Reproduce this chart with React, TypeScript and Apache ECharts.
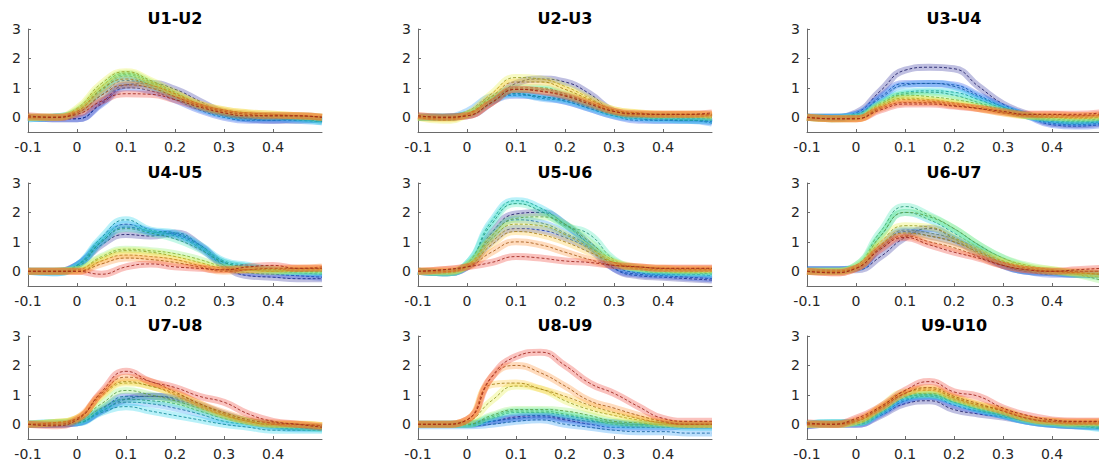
import React, { useEffect, useRef } from "react";
import * as echarts from "echarts";

// Sample times (s) shared by every trace
const TIME = [-0.1, -0.05, 0, 0.05, 0.1, 0.15, 0.2, 0.25, 0.3, 0.35, 0.4, 0.45, 0.5];

const PANEL_TITLES = ["U1-U2", "U2-U3", "U3-U4", "U4-U5", "U5-U6", "U6-U7", "U7-U8", "U8-U9", "U9-U10"];

const X_TICKS = [-0.1, 0, 0.1, 0.2, 0.3, 0.4];
const Y_TICKS = [0, 1, 2, 3];

// Trace colours, cold to warm
const PALETTE = ["#2b2b9c", "#1c48e8", "#1e96f5", "#18d2ea", "#3ee8b4", "#8cf06a", "#e6f03a", "#ffc42a", "#ff8a28", "#ee3428"];

// One row per trace (navy ... red), values at TIME
const u1u2 = [
  [0, -0.05, -0.05, 0.5, 1.1, 1.15, 0.95, 0.55, 0.15, -0.05, -0.1, -0.1, -0.05],
  [0, -0.05, -0.05, 0.45, 1.0, 0.9, 0.6, 0.25, 0, -0.1, -0.1, -0.05, -0.1],
  [-0.05, 0, 0.15, 0.75, 1.25, 1.05, 0.7, 0.3, 0.05, -0.05, -0.05, -0.1, -0.15],
  [-0.05, 0, 0.2, 0.9, 1.4, 1.1, 0.75, 0.35, 0.1, 0, 0, -0.05, -0.15],
  [0, 0, 0.2, 0.95, 1.45, 1.15, 0.75, 0.4, 0.15, 0.05, 0.05, 0, -0.1],
  [0, 0, 0.25, 1.05, 1.5, 1.2, 0.8, 0.4, 0.2, 0.1, 0.05, 0.05, 0],
  [0, 0, 0.3, 1.15, 1.55, 1.25, 0.85, 0.45, 0.25, 0.15, 0.1, 0.05, 0],
  [0, 0, 0.2, 0.95, 1.3, 1.1, 0.8, 0.45, 0.25, 0.15, 0.1, 0.05, 0],
  [0, 0, 0.15, 0.75, 1.1, 1.0, 0.7, 0.4, 0.2, 0.1, 0.05, 0.05, 0],
  [0.05, 0, 0.1, 0.55, 0.8, 0.78, 0.6, 0.35, 0.15, 0.05, 0.05, 0.05, 0],
];

const u2u3 = [
  [0, 0, 0.05, 0.5, 1.15, 1.3, 1.2, 0.8, 0.2, 0.05, 0, -0.05, -0.05],
  [0, 0, 0.1, 0.55, 0.75, 0.7, 0.55, 0.3, 0.05, -0.1, -0.1, -0.1, -0.15],
  [0, 0, 0.2, 0.7, 0.8, 0.65, 0.55, 0.3, 0.05, -0.05, -0.1, -0.1, -0.2],
  [0, 0, 0.1, 0.55, 0.8, 0.7, 0.6, 0.35, 0.1, 0, -0.05, -0.1, -0.1],
  [0, 0, 0.1, 0.6, 0.95, 0.95, 0.75, 0.45, 0.15, 0.05, 0.05, 0, 0],
  [0, 0, 0.1, 0.6, 1.0, 1.0, 0.8, 0.5, 0.2, 0.1, 0.05, 0.05, 0],
  [0, -0.1, 0.1, 0.8, 1.35, 1.3, 1.05, 0.65, 0.25, 0.15, 0.1, 0.1, 0.1],
  [0, -0.05, 0.1, 0.7, 1.2, 1.2, 0.95, 0.6, 0.25, 0.15, 0.1, 0.1, 0.05],
  [0.05, 0, 0.05, 0.5, 0.95, 0.9, 0.75, 0.5, 0.2, 0.1, 0.1, 0.1, 0.1],
  [0.05, 0, 0.05, 0.5, 0.95, 0.88, 0.72, 0.45, 0.2, 0.12, 0.1, 0.1, 0.15],
];

const u3u4 = [
  [0, 0, 0.15, 0.9, 1.6, 1.7, 1.65, 1.05, 0.45, 0.1, -0.2, -0.25, -0.2],
  [0, 0, 0.1, 0.7, 1.15, 1.15, 1.1, 0.75, 0.35, 0.05, -0.25, -0.3, -0.25],
  [0, 0, 0.1, 0.65, 1.1, 1.15, 1.05, 0.7, 0.35, 0.05, -0.15, -0.2, -0.15],
  [0, 0, 0.05, 0.5, 0.85, 0.9, 0.85, 0.6, 0.3, 0.05, -0.1, -0.15, -0.1],
  [0, -0.05, 0, 0.45, 0.8, 0.85, 0.75, 0.5, 0.25, 0.05, -0.05, -0.1, -0.05],
  [0, -0.05, 0, 0.45, 0.75, 0.7, 0.6, 0.45, 0.2, 0.05, 0, -0.05, 0],
  [0, -0.05, -0.05, 0.4, 0.65, 0.6, 0.5, 0.35, 0.2, 0.05, 0, 0, 0],
  [0, -0.05, -0.05, 0.35, 0.6, 0.55, 0.45, 0.3, 0.15, 0.05, 0.05, 0.05, 0.05],
  [0, -0.05, -0.05, 0.3, 0.5, 0.5, 0.4, 0.3, 0.15, 0.1, 0.1, 0.05, 0.1],
  [0, -0.05, -0.05, 0.25, 0.45, 0.45, 0.38, 0.3, 0.2, 0.1, 0.1, 0.1, 0.15],
];

const u4u5 = [
  [0, 0, 0.2, 0.9, 1.25, 1.2, 1.3, 0.9, 0.2, -0.15, -0.2, -0.25, -0.25],
  [0, 0, 0.2, 1.0, 1.5, 1.35, 1.2, 0.8, 0.2, -0.05, -0.1, -0.15, -0.2],
  [0, -0.05, 0.2, 1.05, 1.6, 1.35, 1.25, 0.85, 0.3, 0.15, 0, -0.05, -0.1],
  [0, -0.05, 0.2, 1.15, 1.75, 1.4, 1.3, 0.9, 0.35, 0.2, 0.05, 0, -0.05],
  [0, 0, 0.15, 1.0, 1.45, 1.3, 1.1, 0.75, 0.3, 0.15, 0.05, 0, 0],
  [0, 0, 0.05, 0.5, 0.75, 0.7, 0.6, 0.4, 0.15, 0.05, 0, 0, 0],
  [0, 0, 0.05, 0.45, 0.7, 0.65, 0.5, 0.3, 0.1, 0.05, 0, 0.05, 0.05],
  [0, 0, 0, 0.35, 0.55, 0.5, 0.4, 0.2, 0.05, 0.05, 0.05, 0.1, 0.1],
  [0, 0, 0, 0.25, 0.45, 0.4, 0.3, 0.15, 0, 0.05, 0.1, 0.1, 0.15],
  [0, 0, 0, -0.1, 0.15, 0.25, 0.15, 0.1, 0.05, 0.15, 0.2, 0.1, 0.1],
];

const u5u6 = [
  [0, -0.05, 0.15, 1.3, 1.95, 2.0, 1.6, 0.9, 0.1, -0.15, -0.2, -0.25, -0.3],
  [0, -0.05, 0.15, 1.0, 1.45, 1.4, 1.15, 0.75, 0.1, -0.1, -0.15, -0.2, -0.25],
  [0, -0.05, 0.2, 1.2, 1.75, 1.65, 1.3, 0.85, 0.2, -0.05, -0.1, -0.1, -0.15],
  [0, -0.05, 0.25, 1.7, 2.4, 2.15, 1.6, 0.9, 0.3, 0.05, -0.05, -0.05, -0.1],
  [0, -0.05, 0.25, 1.6, 2.3, 2.05, 1.55, 1.25, 0.4, 0.1, 0, -0.05, -0.05],
  [0, -0.05, 0.2, 1.2, 1.8, 1.85, 1.6, 1.0, 0.35, 0.1, 0.05, 0, 0],
  [0, 0, 0.2, 1.1, 1.6, 1.55, 1.25, 0.8, 0.3, 0.1, 0.05, 0.05, 0.05],
  [0, 0, 0.15, 0.9, 1.35, 1.25, 1.0, 0.65, 0.3, 0.15, 0.1, 0.05, 0.05],
  [0, 0.05, 0.15, 0.65, 1.0, 0.9, 0.65, 0.4, 0.2, 0.15, 0.1, 0.1, 0.1],
  [0, 0.05, 0.15, 0.3, 0.5, 0.45, 0.35, 0.3, 0.2, 0.15, 0.1, 0.1, 0.1],
];

const u6u7 = [
  [0.05, 0.05, 0.05, 0.5, 1.15, 1.45, 1.1, 0.6, 0.2, 0, -0.05, -0.1, -0.1],
  [0.05, 0.05, 0.1, 0.8, 1.35, 1.2, 1.0, 0.7, 0.2, 0, -0.1, -0.1, -0.1],
  [0.05, 0.05, 0.1, 0.85, 1.4, 1.3, 1.1, 0.75, 0.25, 0, -0.05, -0.1, -0.1],
  [0, 0, 0.15, 1.2, 2.0, 1.75, 1.3, 0.8, 0.35, 0.1, 0, -0.05, -0.1],
  [0, 0, 0.2, 1.35, 2.2, 1.9, 1.45, 0.9, 0.45, 0.15, 0, -0.1, -0.2],
  [0, 0, 0.2, 1.2, 2.0, 1.85, 1.45, 0.9, 0.45, 0.2, 0.05, -0.1, -0.3],
  [0, 0, 0.15, 1.0, 1.55, 1.5, 1.15, 0.7, 0.35, 0.15, 0.05, -0.05, -0.1],
  [0, 0, 0.1, 0.9, 1.3, 1.2, 1.0, 0.65, 0.3, 0.1, 0, -0.05, -0.1],
  [0, -0.05, 0.1, 0.8, 1.2, 1.0, 0.8, 0.5, 0.2, 0.05, 0, 0, 0],
  [0, -0.05, 0.1, 0.75, 1.15, 0.9, 0.65, 0.45, 0.2, 0.05, 0, 0.05, 0.1],
];

const u7u8 = [
  [0, 0, 0.05, 0.45, 0.85, 0.95, 0.85, 0.6, 0.3, 0.1, 0, -0.1, -0.1],
  [0, 0, 0.05, 0.5, 0.95, 0.95, 0.9, 0.65, 0.35, 0.1, -0.05, -0.1, -0.1],
  [0, 0, 0.05, 0.45, 0.75, 0.7, 0.55, 0.35, 0.1, 0, -0.1, -0.15, -0.15],
  [0, 0.05, 0.05, 0.4, 0.6, 0.45, 0.3, 0.15, 0, -0.1, -0.2, -0.2, -0.2],
  [0, 0.05, 0.1, 0.55, 0.85, 0.8, 0.7, 0.45, 0.2, 0.05, -0.05, -0.1, -0.15],
  [0, 0.05, 0.15, 0.7, 1.15, 1.0, 0.8, 0.55, 0.3, 0.1, 0, -0.05, -0.1],
  [0, 0.05, 0.2, 0.95, 1.4, 1.3, 1.0, 0.65, 0.3, 0.1, 0, 0, -0.05],
  [0, 0.05, 0.2, 1.0, 1.45, 1.3, 1.05, 0.7, 0.35, 0.1, 0, 0, -0.05],
  [0, 0, 0.2, 1.05, 1.6, 1.45, 1.1, 0.7, 0.4, 0.15, 0.05, 0, -0.05],
  [0, -0.05, 0.15, 1.1, 1.8, 1.45, 1.25, 0.95, 0.75, 0.35, 0.1, 0, -0.1],
];

const u8u9 = [
  [0, 0, 0, 0.1, 0.25, 0.3, 0.2, 0.1, 0.05, 0, 0, -0.05, -0.05],
  [0, 0, 0, 0.1, 0.2, 0.25, 0.15, 0, -0.1, -0.1, -0.1, -0.05, -0.05],
  [-0.05, -0.05, -0.05, 0, 0.1, 0.15, 0, -0.1, -0.2, -0.25, -0.25, -0.3, -0.3],
  [0, 0, 0, 0.2, 0.4, 0.4, 0.3, 0.15, 0, -0.05, -0.05, -0.1, -0.1],
  [0, 0, 0, 0.25, 0.45, 0.45, 0.35, 0.2, 0.05, 0, 0, -0.05, -0.05],
  [0, 0, 0, 0.3, 0.5, 0.5, 0.45, 0.3, 0.1, 0.05, 0, 0, 0],
  [0, 0, 0.1, 0.8, 1.3, 1.2, 0.8, 0.5, 0.3, 0.15, 0.05, 0, 0],
  [0, 0, 0.15, 1.35, 1.4, 1.2, 0.95, 0.65, 0.4, 0.2, 0.05, 0, 0],
  [0, 0, 0.15, 1.6, 2.0, 1.75, 1.3, 0.8, 0.55, 0.3, 0.1, 0, 0],
  [0, 0, 0.15, 1.6, 2.3, 2.45, 2.0, 1.4, 1.05, 0.6, 0.2, 0.1, 0.1],
];

const u9u10 = [
  [-0.05, 0, 0, 0.3, 0.7, 0.8, 0.5, 0.35, 0.25, 0.1, 0, -0.05, -0.05],
  [-0.05, 0, 0, 0.35, 0.8, 0.95, 0.65, 0.45, 0.3, 0.1, 0, -0.05, -0.1],
  [0, 0.05, 0.05, 0.4, 0.85, 0.95, 0.75, 0.5, 0.3, 0.1, 0, -0.05, -0.1],
  [0, 0.05, 0.05, 0.4, 0.9, 1.0, 0.75, 0.5, 0.3, 0.1, 0, -0.05, -0.15],
  [0, 0.05, 0.05, 0.45, 0.95, 1.0, 0.8, 0.55, 0.35, 0.15, 0.05, 0, -0.05],
  [0, 0, 0.05, 0.5, 1.0, 1.05, 0.85, 0.6, 0.4, 0.15, 0.05, 0, 0],
  [0, 0, 0.1, 0.6, 1.1, 1.15, 0.9, 0.65, 0.5, 0.2, 0.1, 0.05, 0.05],
  [0, 0, 0.1, 0.55, 1.05, 1.2, 0.9, 0.65, 0.45, 0.2, 0.1, 0.05, 0.05],
  [0, 0, 0.15, 0.55, 1.05, 1.25, 0.95, 0.7, 0.45, 0.2, 0.1, 0.1, 0.1],
  [0.05, 0, 0.2, 0.6, 1.15, 1.45, 1.1, 0.95, 0.55, 0.3, 0.15, 0.1, 0.1],
];

const PANELS = [u1u2, u2u3, u3u4, u4u5, u5u6, u6u7, u7u8, u8u9, u9u10];

// Layout of the 3x3 panel grid (px)
const COL_LEFT = [28, 418, 807];
const ROW_TOP = [29, 183, 336];
const PANEL_W = 294;
const PANEL_H = 103;

const FONT = "'DejaVu Sans', sans-serif";
const TEXT_COLOR = "#262626";
const AXIS_COLOR = "#6a6a6a";

function darken(hex: string, f: number): string {
  const n = parseInt(hex.slice(1), 16);
  const r = Math.round(((n >> 16) & 255) * (1 - f));
  const g = Math.round(((n >> 8) & 255) * (1 - f));
  const b = Math.round((n & 255) * (1 - f));
  return `rgb(${r},${g},${b})`;
}

function fmtTick(v: number): string {
  const r = Math.round(v * 10) / 10;
  return r === 0 ? "0" : String(r);
}

export default function App() {
  const ref = useRef<HTMLDivElement>(null);

  useEffect(() => {
    if (!ref.current) return;
    const chart = echarts.init(ref.current, null, { renderer: "svg" });

    const grids: any[] = [];
    const xAxes: any[] = [];
    const yAxes: any[] = [];
    const titles: any[] = [];
    const series: any[] = [];

    PANELS.forEach((lines, p) => {
      const col = p % 3;
      const row = Math.floor(p / 3);
      const left = COL_LEFT[col];
      const top = ROW_TOP[row];

      grids.push({ left, top, width: PANEL_W, height: PANEL_H, containLabel: false, outerBoundsMode: "none" });

      titles.push({
        text: PANEL_TITLES[p],
        left: left + PANEL_W / 2,
        top: top - 19,
        textAlign: "center",
        padding: 0,
        textStyle: { fontFamily: FONT, fontSize: 16, fontWeight: "bold", color: "#000" },
      });

      xAxes.push({
        type: "value",
        gridIndex: p,
        min: -0.1,
        max: 0.5,
        axisLine: { show: true, onZero: false, lineStyle: { color: AXIS_COLOR, width: 1 } },
        axisTick: { show: true, inside: true, length: 3, customValues: X_TICKS, lineStyle: { color: AXIS_COLOR } },
        axisLabel: {
          customValues: X_TICKS,
          formatter: (v: number) => fmtTick(v),
          fontFamily: FONT,
          fontSize: 14,
          color: TEXT_COLOR,
          margin: 8,
        },
        splitLine: { show: false },
      });

      yAxes.push({
        type: "value",
        gridIndex: p,
        min: -0.5,
        max: 3,
        axisLine: { show: true, onZero: false, lineStyle: { color: AXIS_COLOR, width: 1 } },
        axisTick: { show: true, inside: true, length: 3, customValues: Y_TICKS, lineStyle: { color: AXIS_COLOR } },
        axisLabel: {
          customValues: Y_TICKS,
          formatter: (v: number) => fmtTick(v),
          fontFamily: FONT,
          fontSize: 14,
          color: TEXT_COLOR,
          margin: 7,
        },
        splitLine: { show: false },
      });

      lines.forEach((vals, k) => {
        const data = TIME.map((t, i) => [t, vals[i]]);
        const color = PALETTE[k];
        // shaded band around the trace
        series.push({
          type: "line",
          xAxisIndex: p,
          yAxisIndex: p,
          data,
          smooth: 0.5,
          symbol: "none",
          silent: true,
          lineStyle: { color, width: 7, opacity: 0.3 },
        });
        // dashed mean trace
        series.push({
          type: "line",
          xAxisIndex: p,
          yAxisIndex: p,
          data,
          smooth: 0.5,
          symbol: "none",
          silent: true,
          lineStyle: { color: darken(color, 0.35), width: 1, type: [3, 2], opacity: 0.85 },
        });
      });
    });

    chart.setOption({
      animation: false,
      backgroundColor: "#ffffff",
      title: titles,
      grid: grids,
      xAxis: xAxes,
      yAxis: yAxes,
      series,
    });

    return () => chart.dispose();
  }, []);

  return (
    <div
      ref={ref}
      style={{ position: "fixed", left: 0, top: 0, width: 1099, height: 464, background: "#fff" }}
    />
  );
}
